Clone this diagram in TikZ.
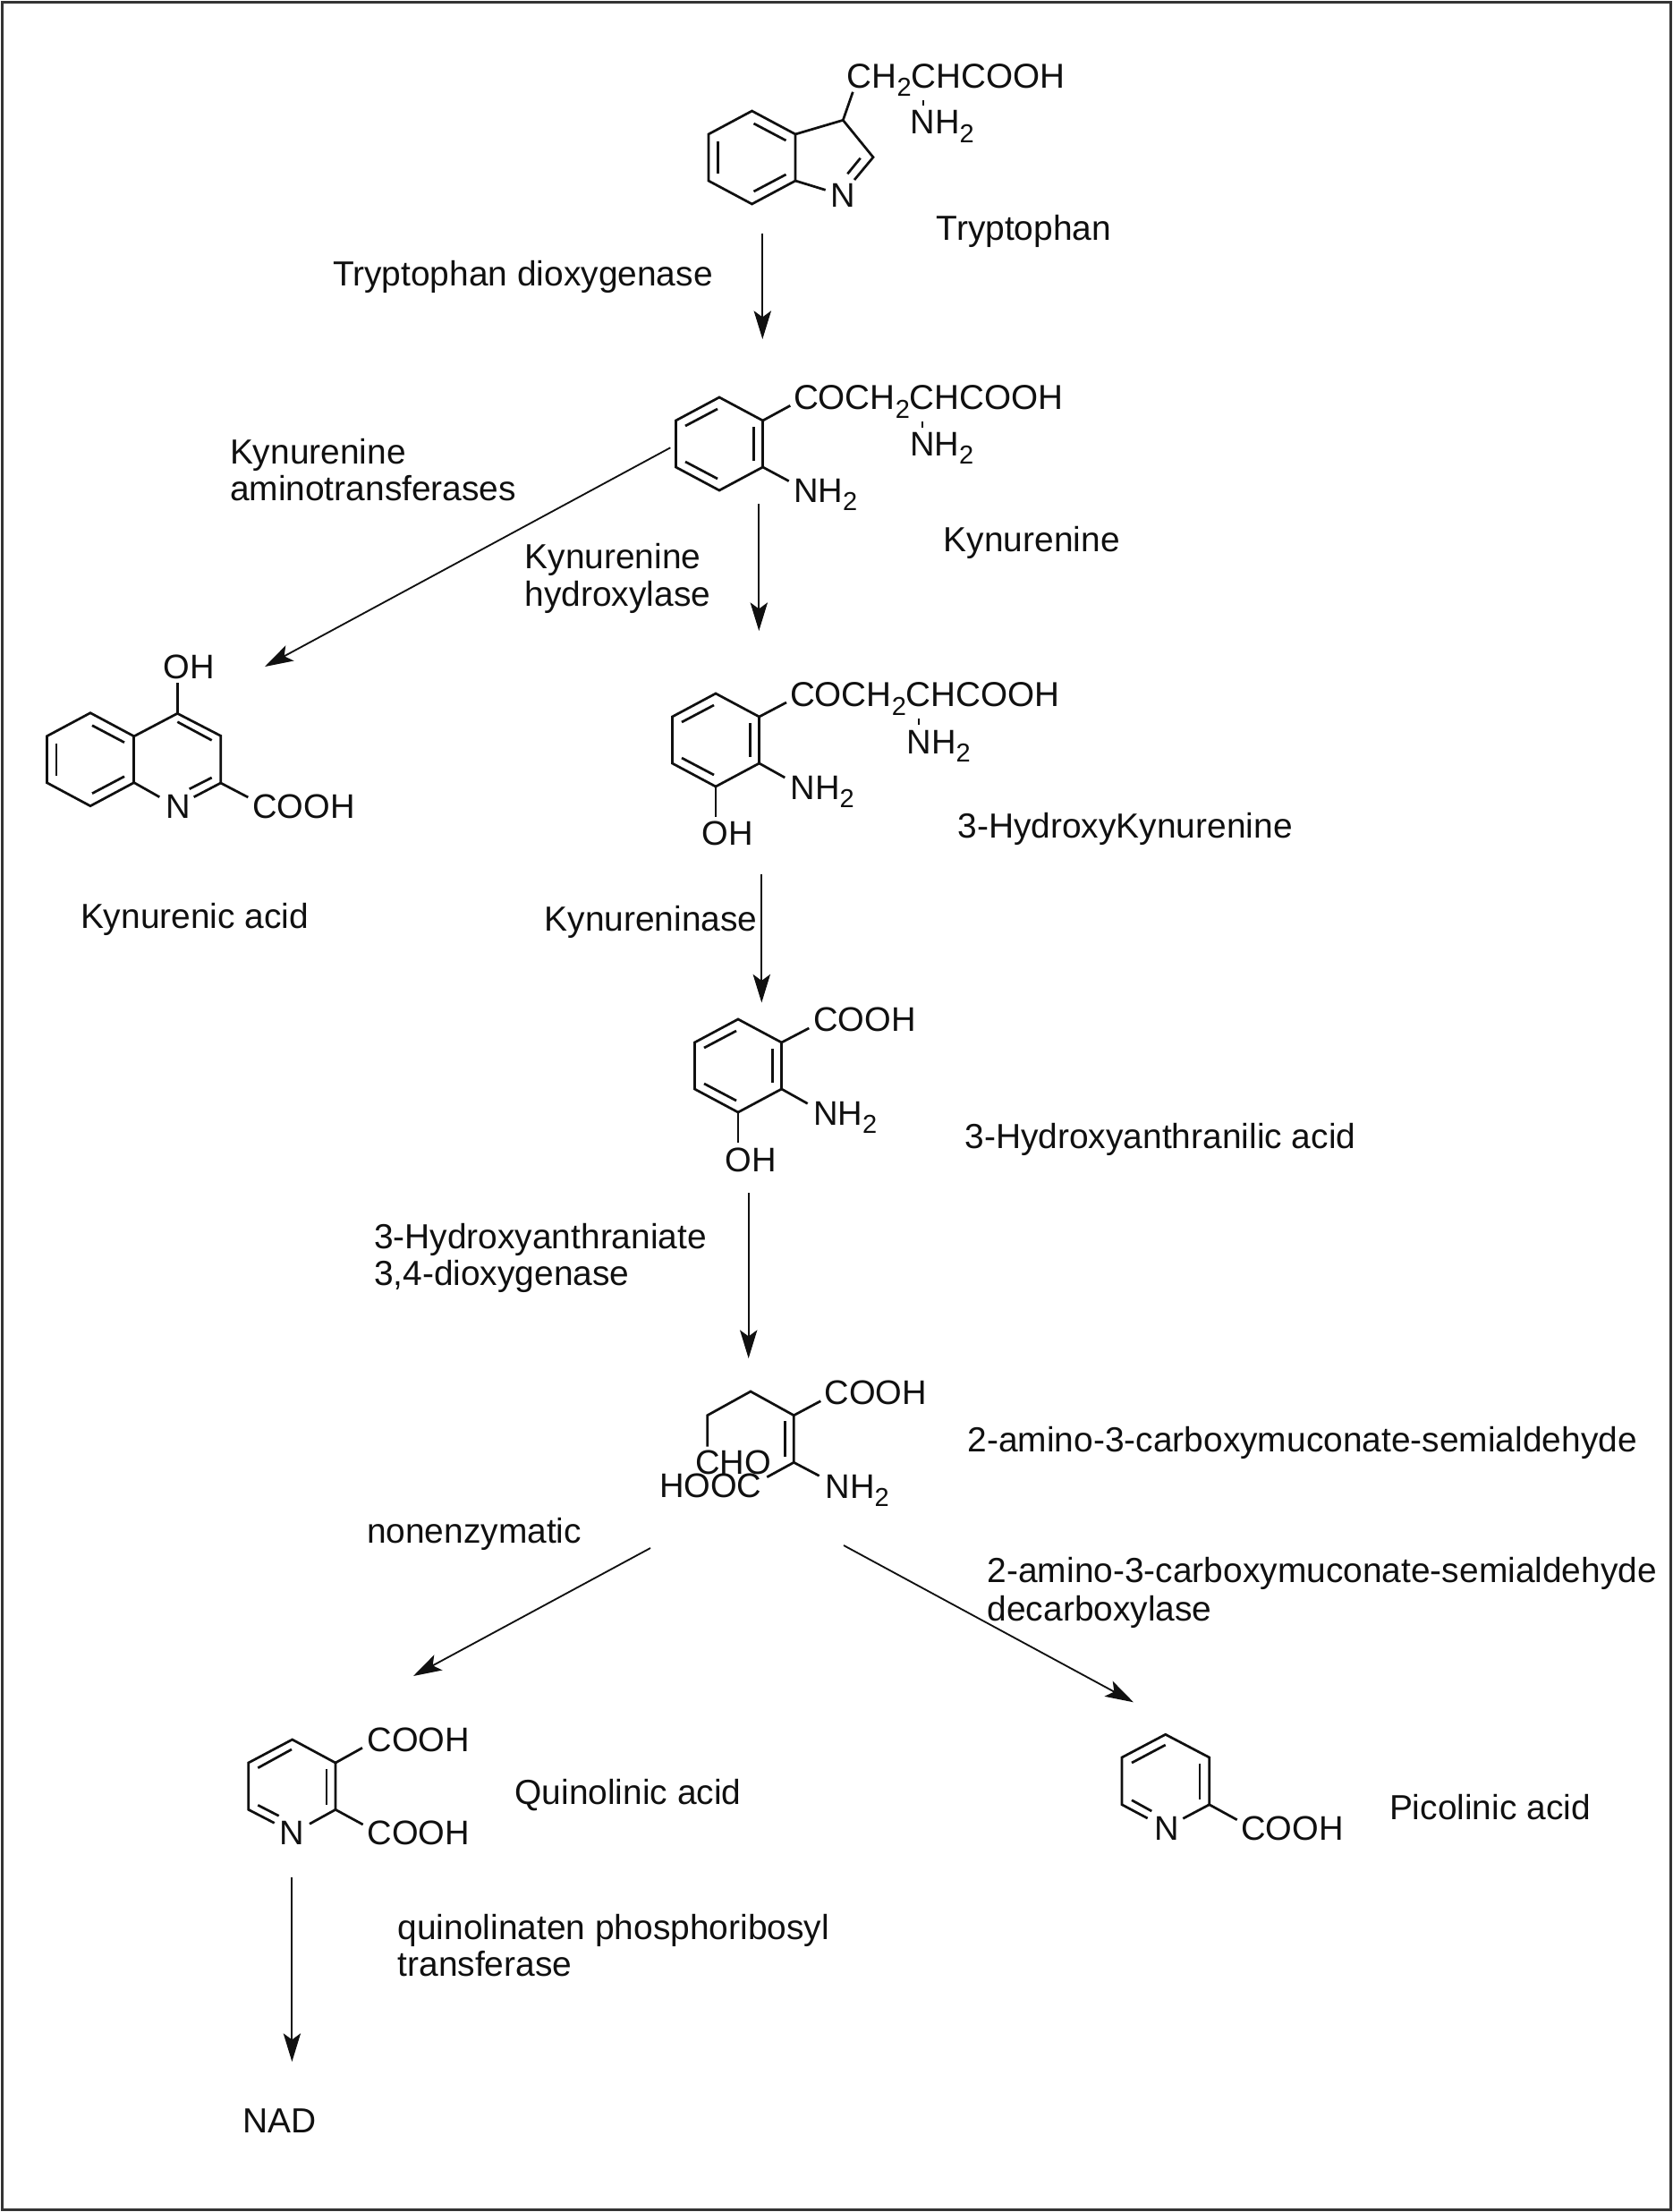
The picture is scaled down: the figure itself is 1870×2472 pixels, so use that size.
\documentclass[tikz,border=0pt]{standalone}
\usepackage{fontspec}
\setmainfont{Liberation Sans}
\usetikzlibrary{arrows.meta}
\newcommand\subtwo{\raisebox{-0.24em}{\fontsize{16.5}{16.5}\selectfont 2}}
\definecolor{ink}{HTML}{101010}
\tikzset{
  lbl/.style={anchor=base west,inner sep=0pt,outer sep=0pt,text=ink,yshift=-0.7pt,font=\fontsize{22.15}{26}\selectfont},
  mol/.style={anchor=base west,inner sep=0pt,outer sep=0pt,text=ink,yshift=-0.5pt,font=\fontsize{21.7}{26}\selectfont},
  chain/.style={mol,font=\fontsize{22}{26}\selectfont},
  bond/.style={draw=ink,line width=1.55pt,line join=miter},
  rxn/.style={draw=ink,line width=1.05pt,-{Stealth[length=18pt,width=11pt,inset=4pt]}},
  tick/.style={draw=ink,line width=0.9pt},
  frame/.style={draw=ink!85,line width=1.4pt}
}
% hexagon: offsets in pixels from its centre
\newcommand\hexring[3]{\begin{scope}[shift={(#1,#2)}]
  \draw[bond] (0,-52)--(48.6,-26)--(48.6,26)--(0,52)--(-48.6,26)--(-48.6,-26)--cycle;
  #3
\end{scope}}
\newcommand\dTL{\draw[bond] (-38,-20)--(-2,-39);}
\newcommand\dR{\draw[bond] (38.5,-19)--(38.5,19);}
\newcommand\dBL{\draw[bond] (-38,20)--(-2,39);}
\newcommand\dL{\draw[bond] (-38,-18)--(-38,18);}
\newcommand\dTR{\draw[bond] (2,-38)--(38,-19);}
\newcommand\dBR{\draw[bond] (2,38)--(38,19);}
\begin{document}
\begin{tikzpicture}[x=0.02cm,y=-0.02cm]
\useasboundingbox (0,0) rectangle (1870,2472);
\fill[white] (0,0) rectangle (1870,2472);
\draw[frame] (2.5,2.5) rectangle (1867.5,2469.5);

% ---------- Tryptophan
\hexring{840.5}{176}{\dTR \dL \dBR}
\draw[bond] (889,150)--(942.3,134.3)--(976,175.7)--(955,201);
\draw[bond] (889,202)--(922.7,212.3);
\draw[bond] (961.7,176.7)--(947.3,194.3);
\draw[bond] (942.3,134.3)--(953.3,102.7);
\node[mol] (trpN) at (928,231) {N};
\node[chain] (trpChain) at (946.7,97.3) {CH\subtwo CHCOOH};
\draw[tick] (1031.7,111.7)--(1031.7,118.3);
\node[mol] (trpNH) at (1017.5,149) {NH\subtwo};
\node[lbl] (trpName) at (1046.7,267.3) {Tryptophan};
\node[lbl] (enz1) at (372,318.5) {Tryptophan dioxygenase};
\coordinate (a1s) at (852.3,260.7);
\coordinate (a1e) at (852.3,379);
\draw[rxn] (a1s)--(a1e);

% ---------- Kynurenine
\hexring{804}{496}{\dTL \dR \dBL}
\draw[bond] (852.6,470)--(883.3,453.3);
\draw[bond] (852.6,522)--(881.7,537.6);
\node[chain] (kynChain) at (887,456.9) {COCH\subtwo CHCOOH};
\draw[tick] (1031,471.1)--(1031,478.2);
\node[mol] (kynNHa) at (1017,508.5) {NH\subtwo};
\node[mol] (kynNHb) at (887,560.8) {NH\subtwo};
\node[lbl] (kynName) at (1054.8,615) {Kynurenine};
\node[lbl] (enz2a) at (257,517) {Kynurenine};
\node[lbl] (enz2b) at (257,558) {aminotransferases};
\node[lbl] (enz3a) at (586.6,634) {Kynurenine};
\node[lbl] (enz3b) at (586.6,676.5) {hydroxylase};
\coordinate (a2s) at (848.3,562.9);
\coordinate (a2e) at (848.3,705);
\draw[rxn] (a2s)--(a2e);
\coordinate (a3s) at (749.3,500.3);
\coordinate (a3e) at (296,745);
\draw[rxn] (a3s)--(a3e);

% ---------- Kynurenic acid
\hexring{101}{848.7}{\dTR \dL \dBR}
\draw[bond] (150,822.7)--(198.3,797.3)--(246.7,822.3)--(246.7,875)--(216.7,890.7);
\draw[bond] (150,874.7)--(178.3,890.7);
\draw[bond] (236.7,869)--(211.7,881.7);
\draw[bond] (198.3,806.7)--(236.7,827.3);
\draw[bond] (198.3,763.3)--(198.3,797.3);
\draw[bond] (246.7,875)--(277.3,891);
\node[mol] (kaOH) at (182.5,757.7) {OH};
\node[mol] (kaN) at (185,913.7) {N};
\node[mol] (kaCOOH) at (282.3,913.7) {COOH};
\node[lbl] (kaName) at (90,1036) {Kynurenic acid};

% ---------- 3-Hydroxykynurenine
\hexring{800}{827}{\dTL \dR \dBL}
\draw[bond] (848.6,801)--(879,785);
\draw[bond] (848.6,853)--(877.3,869);
\draw[bond] (800,879)--(800,913);
\node[chain] (hkChain) at (883,789) {COCH\subtwo CHCOOH};
\draw[tick] (1027,802.5)--(1027,809.5);
\node[mol] (hkNHa) at (1013.5,841.5) {NH\subtwo};
\node[mol] (hkNHb) at (883.5,892.5) {NH\subtwo};
\node[mol] (hkOH) at (784.5,944) {OH};
\node[lbl] (hkName) at (1070.6,935) {3-HydroxyKynurenine};
\node[lbl] (enz4) at (608.6,1039) {Kynureninase};
\coordinate (a4s) at (851.3,977);
\coordinate (a4e) at (851.3,1120.5);
\draw[rxn] (a4s)--(a4e);

% ---------- 3-Hydroxyanthranilic acid
\hexring{825}{1191}{\dTL \dR \dBL}
\draw[bond] (873.6,1165)--(904.3,1149);
\draw[bond] (873.6,1217)--(902.7,1233.3);
\draw[bond] (825,1243)--(825,1276.7);
\node[mol] (haCOOH) at (909.3,1151.7) {COOH};
\node[mol] (haNH) at (909,1256.7) {NH\subtwo};
\node[mol] (haOH) at (810.5,1308.3) {OH};
\node[lbl] (haName) at (1078.5,1282) {3-Hydroxyanthranilic acid};
\node[lbl] (enz5a) at (418,1393.8) {3-Hydroxyanthraniate};
\node[lbl] (enz5b) at (418,1435) {3,4-dioxygenase};
\coordinate (a5s) at (836.7,1333);
\coordinate (a5e) at (836.7,1518);
\draw[rxn] (a5s)--(a5e);

% ---------- ACMS
\draw[bond] (790.7,1616.7)--(790.7,1581.7)--(839,1555)--(887.3,1581.7)--(887.3,1634.3);
\draw[bond] (877.3,1588)--(877.3,1628);
\draw[bond] (887.3,1581.7)--(917.3,1565.7);
\draw[bond] (857.3,1650.7)--(887.3,1634.3)--(915.7,1649.3);
\node[mol] (acCOOH) at (921.8,1568.7) {COOH};
\node[mol] (acNH) at (922.5,1673.3) {NH\subtwo};
\node[mol] (acHOOC) at (737,1672.7) {HOOC};
\node[mol] (acCHO) at (777.3,1646.7) {CHO};
\node[lbl] (acName) at (1081.6,1621) {2-amino-3-carboxymuconate-semialdehyde};
\node[lbl] (enz6) at (410,1723) {nonenzymatic};
\node[lbl] (enz7a) at (1103.7,1767.5) {2-amino-3-carboxymuconate-semialdehyde};
\node[lbl] (enz7b) at (1103.7,1810) {decarboxylase};
\coordinate (a6s) at (727,1730);
\coordinate (a6e) at (462,1873);
\draw[rxn] (a6s)--(a6e);
\coordinate (a7s) at (943,1727);
\coordinate (a7e) at (1267,1902.3);
\draw[rxn] (a7s)--(a7e);

% ---------- Quinolinic acid
\draw[bond] (306.7,2037.3)--(277.7,2022.3)--(277.7,1970)--(326.7,1944)--(375,1970)--(375,2022.3)--(346,2038.3);
\draw[bond] (288.3,1975.7)--(326,1955);
\draw[bond] (365,1976.7)--(365,2016.7);
\draw[bond] (288.3,2017.3)--(311.7,2029.3);
\draw[bond] (375,1970)--(405,1953.3);
\draw[bond] (375,2022.3)--(405.7,2039);
\node[mol] (qaCOOHa) at (410.7,1956.7) {COOH};
\node[mol] (qaCOOHb) at (410.7,2061) {COOH};
\node[mol] (qaN) at (312.5,2061) {N};
\node[lbl] (qaName) at (575.5,2015) {Quinolinic acid};
\node[lbl] (enz8a) at (444.6,2166) {quinolinaten phosphoribosyl};
\node[lbl] (enz8b) at (444.6,2207.5) {transferase};
\coordinate (a8s) at (326.4,2097.6);
\coordinate (a8e) at (326.4,2304);
\draw[rxn] (a8s)--(a8e);
\node[lbl] (nad) at (271,2382) {NAD};

% ---------- Picolinic acid
\draw[bond] (1282.7,2032)--(1254,2016.7)--(1254,1964)--(1302.7,1938.3)--(1351.7,1964)--(1351.7,2016.7)--(1322.3,2032.3);
\draw[bond] (1265,1970)--(1302.7,1950);
\draw[bond] (1341,1970.7)--(1341,2011);
\draw[bond] (1265,2011.7)--(1287.3,2024);
\draw[bond] (1351.7,2016.7)--(1382.7,2033.7);
\node[mol] (paCOOH) at (1387.3,2055.3) {COOH};
\node[mol] (paN) at (1290,2055.3) {N};
\node[lbl] (paName) at (1553,2032) {Picolinic acid};
\end{tikzpicture}
\end{document}
